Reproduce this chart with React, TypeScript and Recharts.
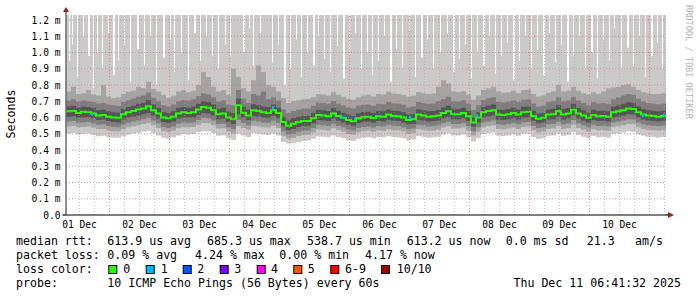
import React from "react";
import { ComposedChart, Area, Line, Scatter, XAxis, YAxis, ReferenceLine } from "recharts";

// ---- time axis (hours since the first sample, one sample every 2 h) ----
const SAMPLE_HOURS = 2;
const dayLabels = ["01 Dec", "02 Dec", "03 Dec", "04 Dec", "05 Dec", "06 Dec", "07 Dec", "08 Dec", "09 Dec", "10 Dec"];
const noonHours = [5.4, 29.4, 53.4, 77.4, 101.4, 125.4, 149.4, 173.4, 197.4, 221.4];
const midnightHours = [17.4, 41.4, 65.4, 89.4, 113.4, 137.4, 161.4, 185.4, 209.4, 233.4];
const sixHourLines = [5.4, 11.4, 23.4, 29.4, 35.4, 47.4, 53.4, 59.4, 71.4, 77.4, 83.4, 95.4, 101.4, 107.4, 119.4, 125.4, 131.4, 143.4, 149.4, 155.4, 167.4, 173.4, 179.4, 191.4, 197.4, 203.4, 215.4, 221.4, 227.4, 239.4];
const yTicks = [0, 0.1, 0.2, 0.3, 0.4, 0.5, 0.6, 0.7, 0.8, 0.9, 1.0, 1.1, 1.2];

// ---- values in microseconds ----
const medianUs = [
  638, 640, 628, 635, 632, 625, 612, 615, 605, 600,
  598, 620, 632, 640, 650, 655, 670, 645, 625, 600,
  595, 605, 625, 632, 628, 632, 650, 665, 660, 645,
  620, 625, 600, 590, 675, 630, 612, 645, 640, 632,
  628, 645, 628, 572, 550, 562, 572, 578, 578, 595,
  615, 612, 607, 625, 610, 598, 585, 577, 595, 602,
  605, 597, 607, 605, 618, 610, 607, 600, 585, 590,
  618, 612, 605, 608, 612, 628, 638, 620, 620, 628,
  607, 570, 600, 632, 640, 645, 618, 615, 620, 628,
  618, 632, 635, 610, 592, 598, 618, 620, 638, 618,
  625, 648, 625, 612, 598, 615, 607, 610, 605, 632,
  638, 645, 655, 652, 632, 618, 612, 610, 605, 610, 610,
];
const minUs = [
  500, 505, 495, 498, 500, 492, 485, 488, 480, 475,
  475, 485, 495, 500, 505, 512, 518, 505, 490, 475,
  470, 478, 490, 498, 495, 498, 510, 515, 514, 505,
  488, 490, 472, 462, 500, 490, 480, 505, 500, 495,
  492, 502, 490, 450, 440, 442, 448, 455, 458, 470,
  485, 482, 478, 490, 480, 472, 460, 455, 470, 475,
  478, 472, 480, 478, 485, 480, 478, 472, 460, 465,
  485, 482, 476, 478, 482, 495, 502, 490, 490, 495,
  478, 452, 472, 498, 505, 508, 488, 486, 490, 495,
  488, 500, 502, 480, 468, 472, 488, 490, 502, 488,
  494, 510, 494, 482, 472, 486, 478, 480, 476, 498,
  502, 508, 515, 512, 496, 488, 482, 480, 476, 480, 480,
];
const p2Us = [
  545, 548, 540, 542, 544, 538, 528, 530, 522, 516,
  514, 528, 540, 546, 552, 560, 566, 552, 535, 515,
  510, 518, 534, 542, 540, 542, 556, 566, 565, 552,
  532, 534, 514, 502, 548, 536, 524, 550, 546, 540,
  538, 550, 536, 488, 470, 474, 486, 492, 494, 508,
  526, 524, 520, 534, 522, 512, 498, 494, 510, 516,
  518, 512, 520, 518, 528, 522, 520, 514, 500, 505,
  528, 524, 518, 520, 524, 538, 546, 532, 532, 538,
  520, 490, 512, 540, 548, 552, 530, 528, 532, 538,
  530, 542, 544, 522, 508, 512, 530, 532, 546, 530,
  536, 555, 536, 524, 512, 528, 520, 522, 518, 542,
  546, 552, 560, 558, 540, 530, 524, 522, 518, 522, 522,
];
const p3Us = [
  575, 578, 568, 570, 572, 565, 555, 558, 548, 542,
  540, 556, 568, 575, 582, 590, 598, 582, 564, 542,
  536, 545, 562, 570, 568, 570, 585, 598, 595, 582,
  560, 562, 540, 528, 585, 566, 552, 580, 576, 570,
  568, 580, 566, 515, 495, 500, 512, 518, 520, 535,
  555, 552, 548, 562, 550, 540, 526, 520, 536, 542,
  545, 538, 548, 545, 556, 550, 548, 540, 528, 532,
  556, 552, 545, 548, 552, 566, 574, 560, 560, 566,
  548, 515, 540, 570, 576, 582, 558, 555, 560, 566,
  558, 570, 572, 550, 535, 540, 558, 560, 574, 558,
  565, 584, 564, 552, 540, 555, 548, 550, 546, 570,
  575, 582, 590, 588, 570, 558, 552, 550, 546, 550, 550,
];
const p4Us = [
  605, 608, 598, 600, 602, 595, 585, 588, 578, 572,
  570, 588, 600, 606, 612, 620, 628, 612, 594, 572,
  566, 575, 592, 600, 598, 600, 615, 628, 625, 612,
  590, 592, 572, 560, 620, 598, 584, 610, 606, 600,
  598, 610, 596, 545, 522, 530, 542, 548, 550, 565,
  585, 582, 578, 592, 580, 570, 556, 550, 566, 572,
  575, 568, 578, 575, 586, 580, 578, 570, 558, 562,
  586, 582, 575, 578, 582, 596, 604, 590, 590, 596,
  578, 545, 570, 600, 606, 612, 588, 585, 590, 596,
  588, 600, 602, 580, 565, 570, 588, 590, 604, 588,
  595, 614, 594, 582, 570, 585, 578, 580, 576, 600,
  605, 612, 620, 618, 600, 588, 582, 580, 576, 580, 580,
];
const p7Us = [
  668, 672, 660, 666, 664, 658, 645, 648, 638, 632,
  630, 652, 664, 672, 684, 690, 708, 680, 658, 634,
  628, 638, 658, 665, 660, 666, 685, 700, 696, 680,
  654, 660, 635, 628, 715, 668, 648, 682, 676, 668,
  664, 680, 662, 605, 582, 595, 604, 610, 610, 628,
  648, 645, 640, 658, 642, 630, 618, 610, 628, 634,
  636, 628, 640, 638, 650, 642, 640, 632, 618, 622,
  650, 644, 638, 640, 646, 662, 672, 654, 652, 660,
  640, 602, 632, 665, 674, 680, 650, 648, 652, 660,
  650, 666, 668, 642, 625, 630, 650, 654, 675, 652,
  658, 684, 658, 645, 630, 648, 640, 642, 638, 666,
  676, 684, 694, 690, 668, 652, 645, 642, 638, 642, 642,
];
const p8Us = [
  705, 712, 698, 704, 700, 696, 686, 690, 680, 676,
  672, 695, 706, 715, 728, 735, 752, 722, 700, 676,
  668, 680, 700, 708, 704, 712, 732, 748, 742, 724,
  698, 705, 680, 675, 770, 715, 690, 745, 735, 760,
  712, 725, 705, 650, 626, 640, 648, 655, 656, 672,
  692, 690, 684, 702, 686, 674, 662, 655, 672, 678,
  680, 672, 684, 682, 695, 688, 686, 678, 662, 668,
  695, 690, 684, 686, 700, 712, 728, 700, 698, 706,
  684, 646, 676, 708, 718, 724, 695, 692, 698, 704,
  695, 710, 712, 686, 668, 674, 696, 700, 725, 698,
  704, 728, 704, 690, 676, 694, 686, 690, 685, 712,
  724, 735, 745, 740, 716, 698, 690, 686, 682, 686, 686,
];
const p9Us = [
  760, 790, 745, 750, 770, 742, 735, 800, 730, 720,
  725, 745, 760, 765, 790, 780, 820, 775, 760, 740,
  720, 735, 760, 770, 755, 765, 800, 880, 850, 790,
  760, 770, 740, 900, 850, 780, 760, 830, 920, 880,
  800, 790, 760, 720, 690, 700, 705, 712, 715, 725,
  745, 742, 735, 755, 740, 728, 715, 710, 725, 735,
  740, 730, 745, 742, 760, 748, 745, 738, 730, 735,
  755, 750, 745, 748, 790, 830, 810, 760, 755, 762,
  740, 710, 735, 770, 780, 790, 760, 752, 755, 765,
  750, 770, 772, 745, 730, 735, 752, 760, 800, 760,
  765, 790, 765, 750, 740, 755, 745, 760, 780, 785,
  790, 800, 805, 790, 770, 755, 750, 745, 745, 750, 750,
];
// the max ping is mostly off the chart; these are the times where it stayed lower
const gapHours = [
  1.2, 2.4, 4.4, 6.8, 8.8, 10.8, 12.4, 14.4, 16.8, 18.8, 20.8, 23.2, 25.6, 28.4, 31.2, 33.6, 36.0, 38.8, 41.6, 43.2,
  46.0, 48.8, 51.2, 53.6, 56.0, 58.4, 60.8, 63.6, 65.6, 70.8, 73.2, 74.8, 77.6, 82.4, 84.8, 87.2, 89.6, 92.0, 94.0, 96.4,
  98.8, 100.8, 103.2, 105.6, 108.4, 110.8, 113.2, 115.6, 118.0, 120.4, 122.4, 124.8, 127.2, 129.6, 132.0, 134.4, 137.2, 139.6, 142.0, 144.4,
  146.8, 149.6, 152.4, 154.8, 157.2, 159.6, 162.0, 164.4, 166.8, 169.2, 171.6, 174.0, 176.4, 178.8, 181.2, 183.6, 186.0, 188.4, 190.8, 193.2,
  195.6, 198.0, 200.4, 202.8, 205.2, 207.6, 210.0, 212.4, 214.8, 217.2, 219.2, 222.0, 224.4, 226.8, 229.2, 231.6, 234.0, 236.4, 238.4,
];
const gapWidthHours = [
  0.4, 0.4, 0.4, 0.4, 0.8, 0.4, 0.4, 0.4, 0.4, 0.8, 0.4, 0.4, 0.4, 0.8, 0.4, 0.4, 0.4, 0.8, 0.4, 0.4,
  0.4, 0.4, 0.8, 0.4, 0.4, 0.4, 0.4, 0.4, 0.4, 0.8, 0.4, 0.4, 0.4, 0.4, 0.4, 0.8, 0.4, 0.4, 0.4, 0.4,
  0.8, 0.4, 0.4, 0.4, 0.4, 0.8, 0.4, 0.4, 0.4, 0.4, 0.4, 0.4, 0.4, 0.8, 0.4, 0.4, 0.4, 0.4, 0.8, 0.4,
  0.4, 0.4, 0.4, 0.8, 0.4, 0.4, 0.4, 0.4, 0.8, 0.4, 0.4, 0.4, 0.4, 0.8, 0.4, 0.4, 0.4, 0.4, 0.8, 0.4,
  0.4, 0.4, 0.8, 0.4, 0.4, 0.4, 0.8, 0.4, 0.4, 0.4, 0.4, 0.4, 0.8, 0.4, 0.4, 0.4, 0.8, 0.4, 0.4,
];
const gapFloorUs = [
  950, 1050, 850, 1100, 980, 780, 1000, 900, 1120, 860, 950, 1050, 820, 1020, 920, 1100, 800, 970, 1080, 880,
  1000, 830, 1120, 950, 1100, 980, 900, 1050, 980, 1000, 1150, 920, 1120, 940, 1050, 800, 900, 1080, 850, 1000,
  920, 1100, 960, 880, 1040, 840, 980, 1120, 900, 1000, 860, 950, 1100, 820, 1020, 900, 1130, 850, 970, 1080,
  900, 1000, 1120, 880, 960, 1050, 840, 1000, 920, 1100, 870, 980, 1060, 830, 950, 1100, 900, 1020, 860, 1120,
  940, 1050, 820, 980, 1100, 900, 1000, 840, 1080, 950, 1150, 900, 1030, 920, 1100, 850, 980, 1060, 900,
];
// median samples that had 1/10 loss
const lossHours = [10.4, 82.8, 110.4, 115.6, 137.6, 164.4, 230.8, 239.2];
const lossUs = [620, 660, 600, 592, 600, 612, 612, 615];

const TOP = 1.3;
const Y_MAX = 1.2308;

const data = medianUs.map((m, i) => ({
  t: i * SAMPLE_HOURS,
  med: m / 1000,
  smoke1: [minUs[i] / 1000, TOP],
  smoke2: [p2Us[i] / 1000, p9Us[i] / 1000],
  smoke3: [p3Us[i] / 1000, p8Us[i] / 1000],
  smoke4: [p4Us[i] / 1000, p7Us[i] / 1000],
}));

const gapData = gapHours.flatMap((h, i) => [
  { t: h, gap: [gapFloorUs[i] / 1000, TOP] },
  { t: h + gapWidthHours[i], gap: [gapFloorUs[i] / 1000, TOP] },
  { t: h + gapWidthHours[i] + 0.01, gap: null },
]);

const lossData = lossHours.map((h, i) => ({ t: h, v: lossUs[i] / 1000 }));

const MONO = "'DejaVu Sans Mono', monospace";

const YTick = (props: any) => {
  const { x, y, payload } = props;
  const v = payload.value as number;
  return (
    <text x={x - 5.5} y={y + 3.5} textAnchor="end" fontFamily={MONO} fontSize={9.6} fill="#000">
      {v === 0 ? "0.0" : `${v.toFixed(1)} m`}
    </text>
  );
};

const XTick = (props: any) => {
  const { x, y, payload } = props;
  const idx = noonHours.indexOf(payload.value);
  return (
    <text x={x} y={y + 13} textAnchor="middle" fontFamily={MONO} fontSize={9.6} fill="#000">
      {idx >= 0 ? dayLabels[idx] : ""}
    </text>
  );
};

const lossColors = [
  { label: "0", color: "#26ff00", x: 108.3, tx: 123.3 },
  { label: "1", color: "#00b8ff", x: 145.7, tx: 160.7 },
  { label: "2", color: "#0059ff", x: 182.7, tx: 197.3 },
  { label: "3", color: "#7e00ff", x: 219.7, tx: 234.3 },
  { label: "4", color: "#ff00ff", x: 256.7, tx: 271 },
  { label: "5", color: "#ff5500", x: 293.3, tx: 307.7 },
  { label: "6-9", color: "#ff0000", x: 330.3, tx: 345 },
  { label: "10/10", color: "#a10000", x: 381, tx: 396.7 },
];

const row1: [string, number][] = [
  ["median rtt:", 16], ["613.9 us avg", 107.3], ["685.3 us max", 207], ["538.7 us min", 307],
  ["613.2 us now", 406.7], ["0.0 ms sd", 505.7], ["21.3", 586.7], ["am/s", 635],
];
const row2: [string, number][] = [
  ["packet loss:", 16], ["0.09 % avg", 107.3], ["4.24 % max", 195], ["0.00 % min", 279.3], ["4.17 % now", 365],
];

export default function App() {
  return (
    <div style={{ position: "absolute", left: 0, top: 0, width: 697, height: 297, background: "#fff" }}>
      <ComposedChart
        width={697}
        height={297}
        data={data}
        margin={{ top: 15, right: 31, bottom: 52, left: 0 }}
      >
        <XAxis
          dataKey="t"
          type="number"
          domain={[0, 240]}
          allowDataOverflow
          ticks={noonHours}
          interval={0}
          tick={<XTick />}
          tickLine={false}
          tickSize={0}
          tickMargin={0}
          height={30}
          axisLine={{ stroke: "#000", strokeWidth: 1.2 }}
        />
        <YAxis
          type="number"
          domain={[0, Y_MAX]}
          allowDataOverflow
          ticks={yTicks}
          interval={0}
          tick={<YTick />}
          tickLine={false}
          tickSize={0}
          tickMargin={0}
          width={66}
          axisLine={{ stroke: "#6a6a6a", strokeWidth: 1.5 }}
        />
        <Area dataKey="smoke1" type="stepAfter" stroke="none" fill="#cacaca" fillOpacity={1} isAnimationActive={false} dot={false} activeDot={false} />
        <Area data={gapData} dataKey="gap" type="linear" stroke="none" fill="#ffffff" fillOpacity={1} isAnimationActive={false} dot={false} activeDot={false} />
        <Area dataKey="smoke2" type="stepAfter" stroke="none" fill="#a4a4a4" fillOpacity={1} isAnimationActive={false} dot={false} activeDot={false} />
        <Area dataKey="smoke3" type="stepAfter" stroke="none" fill="#7e7e7e" fillOpacity={1} isAnimationActive={false} dot={false} activeDot={false} />
        <Area dataKey="smoke4" type="stepAfter" stroke="none" fill="#555555" fillOpacity={1} isAnimationActive={false} dot={false} activeDot={false} />
        <Line dataKey="med" type="stepAfter" stroke="#26ff00" strokeWidth={2} dot={false} activeDot={false} isAnimationActive={false} />
        <Scatter
          data={lossData}
          dataKey="v"
          isAnimationActive={false}
          shape={(p: any) => <rect x={p.cx - 1} y={p.cy - 1.5} width={2} height={3} fill="#00b8ff" />}
        />
        {yTicks.filter((v) => v > 0).map((v) => (
          <ReferenceLine key={`h${v}`} y={v} stroke="#e06060" strokeOpacity={0.65} strokeDasharray="1 2" />
        ))}
        {sixHourLines.map((h) => (
          <ReferenceLine key={`m${h}`} x={h} stroke="#a0a0a0" strokeOpacity={0.6} strokeDasharray="1 2" />
        ))}
        {midnightHours.map((h) => (
          <ReferenceLine key={`d${h}`} x={h} stroke="#e06060" strokeOpacity={0.65} strokeDasharray="1 2" />
        ))}
      </ComposedChart>

      <svg
        width={697}
        height={297}
        style={{ position: "absolute", left: 0, top: 0, pointerEvents: "none" }}
      >
        {/* axis extensions and arrows */}
        <line x1={66} y1={10} x2={66} y2={15} stroke="#6a6a6a" strokeWidth={1.5} />
        <polygon points="63,12 69,12 66,7" fill="#9a1f1f" />
        <line x1={62.5} y1={215} x2={66} y2={215} stroke="#000" strokeWidth={1.2} />
        <line x1={666} y1={215} x2={669} y2={215} stroke="#000" strokeWidth={1.2} />
        <polygon points="668,212 668,218 674,215" fill="#9a1f1f" />

        <text transform="translate(15,114) rotate(-90)" textAnchor="middle" fontFamily={MONO} fontSize={11.6} fill="#000">
          Seconds
        </text>
        <text transform="translate(686,5) rotate(90)" fontFamily={MONO} fontSize={8.6} fill="#b4b4b4">
          RRDTOOL / TOBI OETIKER
        </text>

        {row1.map(([s, x]) => (
          <text key={s} x={x} y={245} fontFamily={MONO} fontSize={11.6} fill="#000" style={{ whiteSpace: "pre" }}>{s}</text>
        ))}
        {row2.map(([s, x]) => (
          <text key={s} x={x} y={259} fontFamily={MONO} fontSize={11.6} fill="#000" style={{ whiteSpace: "pre" }}>{s}</text>
        ))}
        <text x={16} y={273} fontFamily={MONO} fontSize={11.6} fill="#000">loss color:</text>
        {lossColors.map((c) => (
          <g key={c.label}>
            <rect x={c.x + 0.5} y={265.5} width={8} height={8} fill={c.color} stroke="#000" strokeWidth={1} />
            <text x={c.tx} y={273} fontFamily={MONO} fontSize={11.6} fill="#000">{c.label}</text>
          </g>
        ))}
        <text x={16} y={286.5} fontFamily={MONO} fontSize={11.6} fill="#000">probe:</text>
        <text x={107.3} y={286.5} fontFamily={MONO} fontSize={11.6} fill="#000" style={{ whiteSpace: "pre" }}>
          10 ICMP Echo Pings (56 Bytes) every 60s
        </text>
        <text x={681} y={286.5} textAnchor="end" fontFamily={MONO} fontSize={11.6} fill="#000">
          Thu Dec 11 06:41:32 2025
        </text>
      </svg>
    </div>
  );
}
